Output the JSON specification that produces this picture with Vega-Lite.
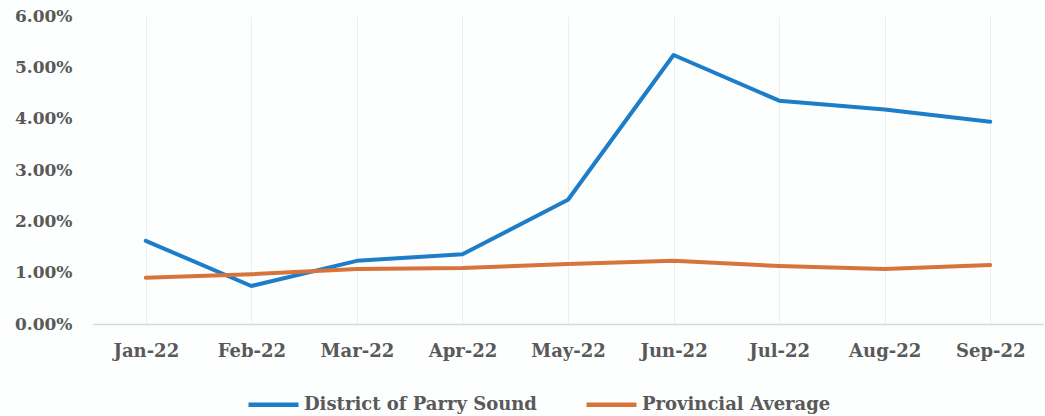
{
  "$schema": "https://vega.github.io/schema/vega-lite/v6.json",
  "autosize": {"type": "none"},
  "width": 950,
  "height": 308,
  "padding": {"left": 93, "top": 16, "right": 2, "bottom": 92},
  "background": "#fdfefe",
  "data": {
    "values": [
      {"month": "Jan-22", "series": "District of Parry Sound", "rate": 0.0162},
      {"month": "Feb-22", "series": "District of Parry Sound", "rate": 0.0074},
      {"month": "Mar-22", "series": "District of Parry Sound", "rate": 0.0123},
      {"month": "Apr-22", "series": "District of Parry Sound", "rate": 0.0136},
      {"month": "May-22", "series": "District of Parry Sound", "rate": 0.0242},
      {"month": "Jun-22", "series": "District of Parry Sound", "rate": 0.0524},
      {"month": "Jul-22", "series": "District of Parry Sound", "rate": 0.0435},
      {"month": "Aug-22", "series": "District of Parry Sound", "rate": 0.0418},
      {"month": "Sep-22", "series": "District of Parry Sound", "rate": 0.0394},
      {"month": "Jan-22", "series": "Provincial Average", "rate": 0.0090},
      {"month": "Feb-22", "series": "Provincial Average", "rate": 0.0097},
      {"month": "Mar-22", "series": "Provincial Average", "rate": 0.0107},
      {"month": "Apr-22", "series": "Provincial Average", "rate": 0.0109},
      {"month": "May-22", "series": "Provincial Average", "rate": 0.0117},
      {"month": "Jun-22", "series": "Provincial Average", "rate": 0.0123},
      {"month": "Jul-22", "series": "Provincial Average", "rate": 0.0113},
      {"month": "Aug-22", "series": "Provincial Average", "rate": 0.0107},
      {"month": "Sep-22", "series": "Provincial Average", "rate": 0.0115}
    ]
  },
  "mark": {"type": "line", "strokeWidth": 4, "strokeCap": "round", "strokeJoin": "round"},
  "encoding": {
    "x": {
      "field": "month",
      "type": "ordinal",
      "sort": null,
      "scale": {"type": "point", "padding": 0.5},
      "axis": {
        "title": null,
        "labelAngle": 0,
        "ticks": false,
        "labelPadding": 18,
        "labelFontSize": 18,
        "domainColor": "#d9d9d9",
        "domainWidth": 1.5,
        "grid": true,
        "gridColor": "#eceef0",
        "gridWidth": 1
      }
    },
    "y": {
      "field": "rate",
      "type": "quantitative",
      "scale": {"domain": [0, 0.06], "nice": false},
      "axis": {
        "title": null,
        "format": ".2%",
        "values": [0, 0.01, 0.02, 0.03, 0.04, 0.05, 0.06],
        "grid": false,
        "domain": false,
        "ticks": false,
        "labelPadding": 21,
        "labelFontSize": 17
      }
    },
    "color": {
      "field": "series",
      "type": "nominal",
      "scale": {
        "domain": ["District of Parry Sound", "Provincial Average"],
        "range": ["#1d7dc8", "#d6743c"]
      },
      "legend": {
        "title": null,
        "orient": "none",
        "direction": "horizontal",
        "legendX": 153,
        "legendY": 361,
        "symbolType": "stroke",
        "symbolSize": 2500,
        "symbolStrokeWidth": 4.5,
        "labelOffset": 3,
        "columnPadding": 40
      }
    }
  },
  "config": {
    "view": {"stroke": null},
    "axis": {
      "labelFont": "DejaVu Serif",
      "labelFontWeight": "bold",
      "labelColor": "#595959"
    },
    "legend": {
      "labelFont": "DejaVu Serif",
      "labelFontWeight": "bold",
      "labelFontSize": 18,
      "labelColor": "#595959",
      "labelLimit": 400
    }
  }
}
